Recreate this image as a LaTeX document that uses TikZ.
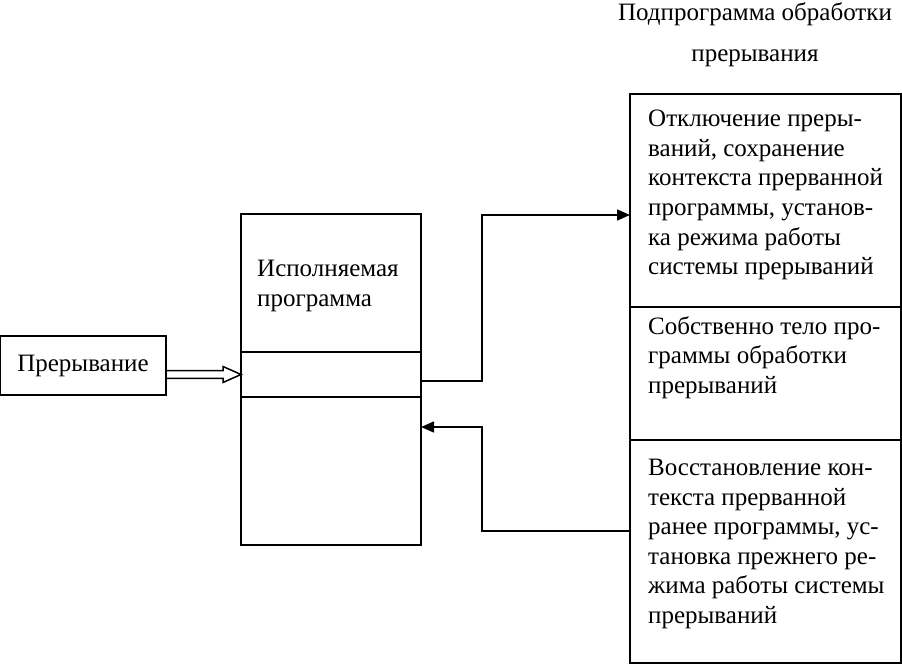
\documentclass[tikz,border=0pt]{standalone}
\usepackage{fontspec}
\setmainfont{Liberation Serif}
\usetikzlibrary{arrows.meta,positioning,calc}
\tikzset{
  blk/.style={draw, line width=1.5pt, inner sep=0pt, outer sep=0pt, anchor=north west},
  txt/.style={inner sep=0pt, anchor=north west, align=left, font=\fontsize{25}{29.6}\selectfont},
  ttl/.style={inner sep=0pt, font=\fontsize{25}{29}\selectfont},
  conn/.style={line width=1.5pt},
  arr/.style={line width=1.5pt, -{Triangle[length=13pt, width=11pt]}}
}
\begin{document}
\begin{tikzpicture}[x=1pt, y=-1pt]
\useasboundingbox (0,0) rectangle (902,665);
% interrupt source
\node[blk, minimum width=166pt, minimum height=59pt, font=\fontsize{25}{29}\selectfont] (intr) at (0,336) {Прерывание};
% running program
\node[blk, minimum width=180pt, minimum height=138pt] (progtop) at (241,214) {};
\node[blk, minimum width=180pt, minimum height=45pt] (progslot) at (progtop.south west) {};
\node[blk, minimum width=180pt, minimum height=148pt] (progbot) at (progslot.south west) {};
\node[txt] (progtxt) at ([shift={(16,46)}]progtop.north west) {Исполняемая\\программа};
% interrupt handler
\node[ttl] (ttl1) at (755,14) {Подпрограмма обработки};
\node[ttl] (ttl2) at (755,58) {прерывания};
\node[blk, minimum width=271pt, minimum height=213pt] (isr1) at (630,94) {};
\node[blk, minimum width=271pt, minimum height=133pt] (isr2) at (isr1.south west) {};
\node[blk, minimum width=271pt, minimum height=223pt] (isr3) at (isr2.south west) {};
\node[txt] (isr1txt) at ([shift={(18,16)}]isr1.north west) {Отключение преры-\\ваний, сохранение\\контекста прерванной\\программы, установ-\\ка режима работы\\системы прерываний};
\node[txt] (isr2txt) at ([shift={(18,9)}]isr2.north west) {Собственно тело про-\\граммы обработки\\прерываний};
\node[txt] (isr3txt) at ([shift={(18,19)}]isr3.north west) {Восстановление кон-\\текста прерванной\\ранее программы, ус-\\тановка прежнего ре-\\жима работы системы\\прерываний};
% connectors
\coordinate (dtip) at (progslot.west);
\draw[conn] ([yshift=3.8pt]intr.east |- dtip) -- ([xshift=-18pt, yshift=3.8pt]dtip)
  -- ([xshift=-18pt, yshift=8pt]dtip) -- (dtip) -- ([xshift=-18pt, yshift=-8pt]dtip)
  -- ([xshift=-18pt, yshift=-3.8pt]dtip) -- ([yshift=-3.8pt]intr.east |- dtip);
\draw[arr] ([yshift=-6.5pt]progslot.east) -- ++(61,0) |- ([yshift=-14.5pt]isr1.west);
\draw[arr] ([yshift=20.5pt]isr3.west) -- ++(-148,0) |- ([yshift=44pt]progbot.east);
\end{tikzpicture}
\end{document}
